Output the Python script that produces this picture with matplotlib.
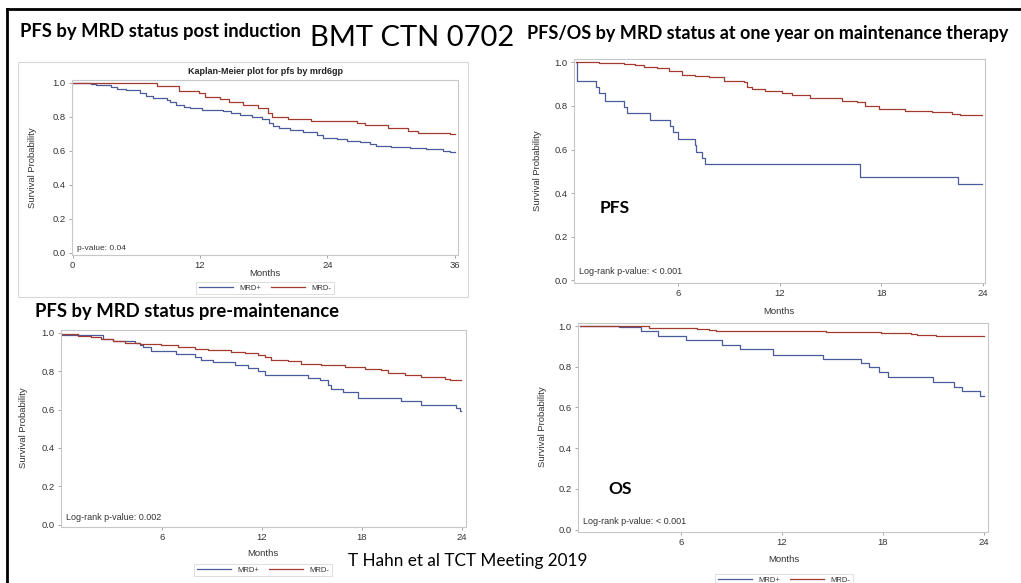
import matplotlib.pyplot as plt
from matplotlib.lines import Line2D
from matplotlib.patches import Rectangle
from matplotlib.ticker import FormatStrFormatter

# post induction, 0-36 months
induct_t_pos = [0, 1.7, 2.2, 2.9, 3.6, 4.2, 5.0, 6.4, 6.9, 7.6, 8.9, 9.2, 9.7, 10.5, 11.1, 12.2,
                14.2, 14.9, 15.8, 16.9, 17.8, 18.5, 18.9, 19.4, 20.5, 21.7, 23.0, 23.6, 24.9,
                25.8, 27.1, 28.0, 28.6, 30.0, 31.8, 33.3, 34.9, 35.5, 36.0]
induct_s_pos = [1.0, 0.994, 0.988, 0.984, 0.975, 0.965, 0.959, 0.936, 0.92, 0.912, 0.897, 0.883,
                0.871, 0.857, 0.848, 0.838, 0.832, 0.819, 0.81, 0.80, 0.786, 0.76, 0.746, 0.735,
                0.722, 0.708, 0.692, 0.676, 0.667, 0.657, 0.649, 0.637, 0.627, 0.62, 0.618, 0.608,
                0.599, 0.591, 0.591]
induct_t_neg = [0, 7.96, 10.0, 11.9, 12.5, 13.9, 14.7, 16.1, 17.5, 18.45, 18.8, 20.3, 22.5, 26.8,
                27.5, 29.7, 31.6, 32.5, 35.5, 36.0]
induct_s_neg = [1.0, 0.982, 0.951, 0.936, 0.916, 0.903, 0.883, 0.867, 0.848, 0.823, 0.799, 0.789,
                0.776, 0.764, 0.751, 0.731, 0.717, 0.706, 0.696, 0.696]

# one year on maintenance - PFS
pfs1y_t_pos = [0, 0.05, 1.16, 1.32, 1.67, 2.80, 2.99, 4.33, 5.51, 5.71, 6.0, 6.99, 7.08, 7.42,
               7.62, 16.77, 22.53, 23.95]
pfs1y_s_pos = [1.0, 0.916, 0.888, 0.857, 0.823, 0.796, 0.767, 0.736, 0.708, 0.682, 0.650, 0.620,
               0.588, 0.562, 0.532, 0.475, 0.444, 0.444]
pfs1y_t_neg = [0, 1.32, 2.80, 3.48, 3.98, 4.76, 5.45, 6.24, 7.03, 7.81, 8.7, 9.88, 10.07, 10.37,
               11.16, 12.14, 12.73, 13.81, 15.68, 16.57, 17.06, 17.84, 19.42, 21.0, 22.18, 22.67,
               23.95]
pfs1y_s_neg = [1.0, 0.997, 0.992, 0.989, 0.980, 0.974, 0.962, 0.943, 0.937, 0.931, 0.916, 0.908,
               0.888, 0.877, 0.869, 0.857, 0.851, 0.836, 0.823, 0.816, 0.800, 0.785, 0.777, 0.772,
               0.765, 0.759, 0.759]

# pre-maintenance
premaint_t_pos = [0, 2.46, 3.06, 4.36, 4.66, 4.86, 5.36, 6.86, 7.96, 8.36, 9.06, 10.36, 11.16,
                  11.76, 12.16, 14.76, 15.46, 15.96, 16.16, 16.86, 17.76, 20.36, 21.56, 23.66,
                  23.86, 23.96]
premaint_s_pos = [0.991, 0.97, 0.957, 0.948, 0.939, 0.927, 0.905, 0.891, 0.873, 0.861, 0.847,
                  0.832, 0.818, 0.801, 0.783, 0.766, 0.752, 0.727, 0.705, 0.691, 0.658, 0.644,
                  0.623, 0.609, 0.592, 0.592]
premaint_t_neg = [0, 0.96, 1.76, 2.36, 3.06, 3.76, 4.66, 5.96, 6.96, 7.96, 8.76, 10.16, 10.96,
                  11.76, 12.16, 12.56, 13.56, 14.36, 15.56, 16.96, 18.16, 19.16, 19.56, 20.56,
                  21.56, 22.96, 23.26, 23.96]
premaint_s_neg = [0.993, 0.986, 0.977, 0.969, 0.957, 0.948, 0.944, 0.936, 0.927, 0.917, 0.910,
                  0.901, 0.893, 0.884, 0.873, 0.861, 0.852, 0.840, 0.830, 0.821, 0.814, 0.804,
                  0.792, 0.783, 0.769, 0.757, 0.752, 0.752]

# one year on maintenance - OS
os1y_t_pos = [0, 2.32, 3.6, 4.63, 6.28, 8.42, 9.49, 11.47, 14.46, 16.68, 17.17, 17.77, 18.32,
              20.99, 22.22, 22.72, 23.77, 24.0]
os1y_s_pos = [1.0, 0.995, 0.976, 0.953, 0.930, 0.907, 0.886, 0.860, 0.837, 0.816, 0.797, 0.772,
              0.748, 0.727, 0.702, 0.681, 0.655, 0.655]
os1y_t_neg = [0, 4.1, 6.97, 7.66, 8.06, 14.6, 17.86, 19.65, 20.04, 21.13, 24.0]
os1y_s_neg = [1.0, 0.992, 0.987, 0.980, 0.976, 0.971, 0.966, 0.959, 0.956, 0.953, 0.953]

y_ticks = [0.0, 0.2, 0.4, 0.6, 0.8, 1.0]
series_labels = ['MRD+', 'MRD-']

W, H = 1021, 583
BLUE = '#4a5a9c'
RED = '#A23A2E'
FRAME = '#C4C8CC'
SANS = 'Liberation Sans'
HEAD = 'Lato'


def fx(px):
    return px / W


def fy(py):
    return 1 - py / H


fig = plt.figure(figsize=(W / 100, H / 100), dpi=100)


def km_axes(left, top, right, bottom, xlim, xticks, pos, neg):
    ax = fig.add_axes([fx(left), fy(bottom), (right - left) / W, (bottom - top) / H])
    ax.step(pos[0], pos[1], where='post', color=BLUE, lw=0.9)
    ax.step(neg[0], neg[1], where='post', color=RED, lw=0.9)
    ax.set_xlim(*xlim)
    ax.set_ylim(-0.012, 1.015)
    ax.set_xticks(xticks)
    ax.set_yticks(y_ticks)
    ax.yaxis.set_major_formatter(FormatStrFormatter('%.1f'))
    for sp in ax.spines.values():
        sp.set_color(FRAME)
        sp.set_linewidth(0.8)
    ax.tick_params(length=2.5, width=0.6, color='#999999', labelsize=6.8,
                   labelcolor='#333333', pad=2)
    for lab in ax.get_xticklabels() + ax.get_yticklabels():
        lab.set_family(SANS)
    return ax


def axis_titles(xm, ym, xs, ys):
    fig.text(fx(xm), fy(ym), 'Months', ha='center', va='center', fontsize=6.8,
             color='#333333', family=SANS)
    fig.text(fx(xs), fy(ys), 'Survival Probability', ha='center', va='center',
             rotation=90, fontsize=6.8, color='#333333', family=SANS)


def km_legend(xc, yc):
    handles = [Line2D([], [], color=BLUE, lw=0.9, label=series_labels[0]),
               Line2D([], [], color=RED, lw=0.9, label=series_labels[1])]
    leg = fig.legend(handles=handles, loc='center', bbox_to_anchor=(fx(xc), fy(yc)), ncol=2,
                     prop={'family': SANS, 'size': 5.5}, frameon=True, fancybox=False,
                     edgecolor='#D0D0D0', handlelength=4.5, columnspacing=1.2,
                     borderpad=0.35, handletextpad=0.8, labelcolor='#333333')
    leg.get_frame().set_linewidth(0.6)


# top-left: post induction
fig.add_artist(Rectangle((fx(18), fy(297)), (468 - 18) / W, (297 - 62) / H, fill=False,
                         edgecolor='#D8D8D8', lw=0.8, transform=fig.transFigure))
ax1 = km_axes(72, 80, 458, 255, (-0.05, 36.3), [0, 12, 24, 36],
              (induct_t_pos, induct_s_pos), (induct_t_neg, induct_s_neg))
ax1.text(0.012, 0.04, 'p-value: 0.04', transform=ax1.transAxes, fontsize=6,
         color='#333333', family=SANS, va='center')
fig.text(fx(265), fy(72), 'Kaplan-Meier plot for pfs by mrd6gp', ha='center', va='center',
         fontsize=6.5, weight='bold', color='#222222', family=SANS)
axis_titles(265, 273, 32, 168)
km_legend(265, 288)

# top-right: PFS at one year on maintenance
ax2 = km_axes(574, 59, 985, 283, (-0.14, 24.12), [6, 12, 18, 24],
              (pfs1y_t_pos, pfs1y_s_pos), (pfs1y_t_neg, pfs1y_s_neg))
ax2.text(0.012, 0.05, 'Log-rank p-value: < 0.001', transform=ax2.transAxes, fontsize=6.5,
         color='#333333', family=SANS, va='center')
fig.text(fx(600), fy(208), 'PFS', ha='left', va='center', fontsize=12.5, weight='bold',
         family=HEAD)
axis_titles(779, 312, 537, 171)

# bottom-left: pre-maintenance
ax3 = km_axes(61, 330, 466, 527, (-0.06, 24.24), [6, 12, 18, 24],
              (premaint_t_pos, premaint_s_pos), (premaint_t_neg, premaint_s_neg))
ax3.text(0.012, 0.05, 'Log-rank p-value: 0.002', transform=ax3.transAxes, fontsize=6.5,
         color='#333333', family=SANS, va='center')
axis_titles(263, 553, 24, 428)
km_legend(263, 570)

# bottom-right: OS at one year on maintenance
ax4 = km_axes(578, 323, 988, 532, (-0.12, 24.24), [6, 12, 18, 24],
              (os1y_t_pos, os1y_s_pos), (os1y_t_neg, os1y_s_neg))
ax4.text(0.012, 0.05, 'Log-rank p-value: < 0.001', transform=ax4.transAxes, fontsize=6.5,
         color='#333333', family=SANS, va='center')
fig.text(fx(608), fy(489), 'OS', ha='left', va='center', fontsize=12.5, weight='bold',
         family=HEAD)
axis_titles(784, 560, 542, 427)
km_legend(784, 580)

# slide headings
fig.text(fx(20), fy(32), 'PFS by MRD status post induction', ha='left', va='center',
         fontsize=13.2, weight='bold', family=HEAD)
fig.text(fx(310), fy(38), 'BMT CTN 0702', ha='left', va='center', fontsize=21, family=HEAD)
fig.text(fx(527), fy(33), 'PFS/OS by MRD status at one year on maintenance therapy',
         ha='left', va='center', fontsize=13.0, weight='bold', family=HEAD)
fig.text(fx(35), fy(312), 'PFS by MRD status pre-maintenance', ha='left', va='center',
         fontsize=13.3, weight='bold', family=HEAD)
fig.text(fx(348), fy(561), 'T Hahn et al TCT Meeting 2019', ha='left', va='center',
         fontsize=12.3, family=HEAD)

# slide border
fig.add_artist(Line2D([fx(7), 1], [fy(9), fy(9)], color='black', lw=2,
                      transform=fig.transFigure))
fig.add_artist(Line2D([fx(7), fx(7)], [fy(9), 0], color='black', lw=2,
                      transform=fig.transFigure))

fig.savefig('out.png', dpi=100)
